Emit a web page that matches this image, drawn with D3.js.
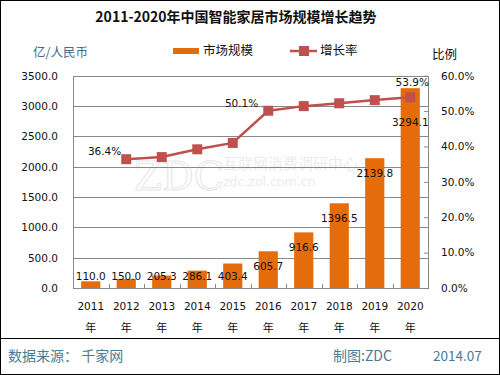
<!DOCTYPE html>
<html><head><meta charset="utf-8">
<script src="https://cdn.jsdelivr.net/npm/d3@7"></script>
<style>body{margin:0;background:#fff}svg{display:block}</style>
</head><body>
<script>
const years = ["2011","2012","2013","2014","2015","2016","2017","2018","2019","2020"];
const marketSize = [110.0,150.0,205.3,286.1,403.4,605.7,916.6,1396.5,2139.8,3294.1];
const growthYears = ["2012","2013","2014","2015","2016","2017","2018","2019","2020"];
const growthRate = [36.4,37.0,39.2,41.0,50.1,51.4,52.2,53.1,53.9];
const labeledRates = ["2012","2016","2020"];
const leftTicks = [0,500,1000,1500,2000,2500,3000,3500];
const rightTicks = [0,10,20,30,40,50,60];

const W=500,H=375;
const m={l:73,r:428,t:75.7,b:288};
const cjk='"Noto Sans CJK SC", sans-serif';
const num='"DejaVu Sans", sans-serif';
const svg=d3.select("body").append("svg").attr("width",W).attr("height",H);
svg.append("rect").attr("x",0.5).attr("y",0.5).attr("width",W-1).attr("height",H-1).attr("fill","#fff").attr("stroke","#000");

const x=d3.scaleBand().domain(years).range([m.l,m.r]).paddingInner(0.46).paddingOuter(0.23);
const xb=d3.scaleBand().domain(years).range([m.l,m.r]);
const y=d3.scaleLinear().domain([0,3500]).range([m.b,m.t]);
const y2=d3.scaleLinear().domain([0,60]).range([m.b,m.t]);

// title
svg.append("text").attr("x",236).attr("y",22).attr("text-anchor","middle").attr("font-family",cjk).attr("font-weight","bold").attr("font-size",14).attr("fill","#111").text("2011-2020年中国智能家居市场规模增长趋势");

// watermark
const wm=svg.append("g").attr("fill","#ebebeb");
wm.append("text").attr("x",134).attr("y",190).attr("font-family",'"DejaVu Serif", serif').attr("font-size",40).attr("fill","none").attr("stroke","#e6e6e6").attr("stroke-width",1).text("ZDC");
wm.append("text").attr("x",223).attr("y",169).attr("font-family",cjk).attr("font-size",15).text("互联网消费调研中心");
wm.append("text").attr("x",223).attr("y",186).attr("font-family",num).attr("font-size",12.5).text("zdc.zol.com.cn");

// gridlines
svg.append("g").selectAll("line").data(leftTicks).join("line")
 .attr("x1",m.l).attr("x2",m.r).attr("y1",d=>Math.round(y(d))+0.5).attr("y2",d=>Math.round(y(d))+0.5)
 .attr("stroke","#888").attr("stroke-width",1);

// bars
svg.append("g").selectAll("rect").data(marketSize).join("rect")
 .attr("x",(d,i)=>x(years[i])).attr("width",x.bandwidth())
 .attr("y",d=>y(d)).attr("height",d=>m.b-y(d)).attr("fill","#E46C0A");

// plot frame
svg.append("rect").attr("x",m.l+0.5).attr("y",Math.round(m.t)+0.5).attr("width",m.r-m.l).attr("height",Math.round(m.b)-Math.round(m.t))
 .attr("fill","none").attr("stroke","#888");

// x axis (ticks inside at category boundaries)
const xAxis=d3.axisBottom(xb).tickSize(0).tickFormat("");
const gx=svg.append("g").attr("transform",`translate(0,${m.b})`).call(xAxis);
gx.select(".domain").remove();
gx.selectAll(".bd").data(years.slice(1)).join("line").attr("class","bd")
 .attr("x1",d=>Math.round(xb(d))+0.5).attr("x2",d=>Math.round(xb(d))+0.5).attr("y1",0.5).attr("y2",-4).attr("stroke","#888");
gx.selectAll(".tick").append("text").attr("y",22).attr("text-anchor","middle").attr("font-family",num).attr("font-size",10.5).attr("fill","#111").text(d=>d);
gx.selectAll(".tick").append("text").attr("y",44).attr("text-anchor","middle").attr("font-family",cjk).attr("font-size",11).attr("fill","#111").text("年");

// left axis
const gl=svg.append("g").attr("transform",`translate(${m.l},0)`).call(d3.axisLeft(y).tickValues(leftTicks).tickSize(0).tickPadding(15).tickFormat(d3.format(".1f")));
gl.select(".domain").remove();
gl.selectAll("text").attr("font-family",num).attr("font-size",10.5).attr("fill","#111");

// right axis
const gr=svg.append("g").attr("transform",`translate(${m.r},0)`).call(d3.axisRight(y2).tickValues(rightTicks).tickSize(0).tickPadding(13).tickFormat(d=>d.toFixed(1)+"%"));
gr.select(".domain").remove();
gr.selectAll(".tick").append("line").attr("x1",0).attr("x2",-4).attr("stroke","#888");
gr.selectAll("text").attr("font-family",num).attr("font-size",10.5).attr("fill","#111");

// line
const cx=d=>xb(d)+xb.bandwidth()/2;
const line=d3.line().x((d,i)=>cx(growthYears[i])).y(d=>y2(d));
svg.append("path").datum(growthRate).attr("d",line).attr("fill","none").attr("stroke","#C0504D").attr("stroke-width",2.5);
svg.append("g").selectAll("rect").data(growthRate).join("rect")
 .attr("x",(d,i)=>cx(growthYears[i])-5).attr("y",d=>y2(d)-5).attr("width",10).attr("height",10).attr("fill","#C0504D");

// bar value labels
svg.append("g").selectAll("text").data(marketSize).join("text")
 .attr("x",(d,i)=>cx(years[i])).attr("y",(d,i)=>{const t=y(d);return (i===years.length-1? t+34 : Math.min(t+15,276))+4;})
 .attr("text-anchor","middle").attr("font-family",num).attr("font-size",10.5).attr("fill","#111").text(d=>d.toFixed(1));

// rate labels
const rl=svg.append("g");
growthRate.forEach((v,i)=>{
  const yr=growthYears[i]; if(!labeledRates.includes(yr))return;
  let dx=-5,dy=-8,anchor="end";
  if(yr==="2016"){dx=-10;dy=-8;}
  if(yr==="2020"){dx=2;dy=-15;anchor="middle";}
  rl.append("text").attr("x",cx(yr)+dx).attr("y",y2(v)+dy+4).attr("text-anchor",anchor)
   .attr("font-family",num).attr("font-size",10.5).attr("fill","#111").text(v.toFixed(1)+"%");
});

// axis titles
svg.append("text").attr("x",33).attr("y",57).attr("font-family",cjk).attr("font-size",12.5).attr("fill","#4a6a8a").text("亿/人民币");
svg.append("text").attr("x",432).attr("y",59).attr("font-family",cjk).attr("font-size",12.5).attr("fill","#111").text("比例");

// legend
svg.append("rect").attr("x",173).attr("y",48).attr("width",26).attr("height",6).attr("fill","#E46C0A");
svg.append("text").attr("x",203).attr("y",55).attr("font-family",cjk).attr("font-size",12.5).attr("fill","#111").text("市场规模");
svg.append("line").attr("x1",290).attr("x2",317).attr("y1",51).attr("y2",51).attr("stroke","#C0504D").attr("stroke-width",2.5);
svg.append("rect").attr("x",299).attr("y",46).attr("width",10).attr("height",10).attr("fill","#C0504D");
svg.append("text").attr("x",320).attr("y",55).attr("font-family",cjk).attr("font-size",12.5).attr("fill","#111").text("增长率");

// footer
svg.append("line").attr("x1",0).attr("x2",W).attr("y1",338.5).attr("y2",338.5).attr("stroke","#000");
const fc="#4a7a95";
svg.append("text").attr("x",8).attr("y",361).attr("font-family",cjk).attr("font-size",14).attr("fill",fc).text("数据来源：  千家网");
svg.append("text").attr("x",333).attr("y",361).attr("font-family",cjk).attr("font-size",14).attr("fill",fc).text("制图:ZDC");
svg.append("text").attr("x",433).attr("y",361).attr("font-family",cjk).attr("font-size",13.5).attr("fill",fc).text("2014.07");
</script>
</body></html>
